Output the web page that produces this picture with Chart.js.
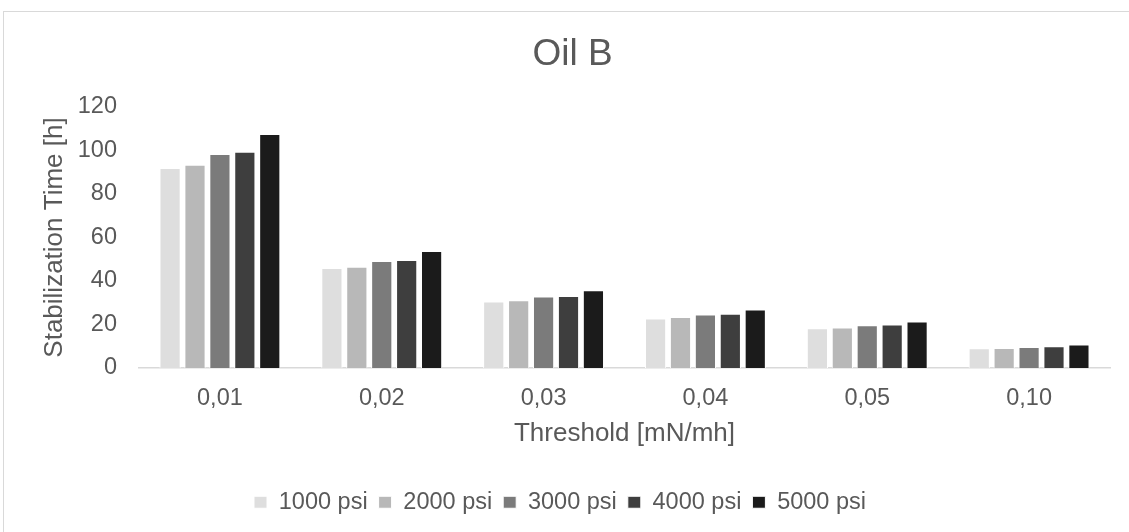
<!DOCTYPE html>
<html>
<head>
<meta charset="utf-8">
<script src="https://cdn.jsdelivr.net/npm/chart.js@4.4.0/dist/chart.umd.min.js"></script>
<style>
  html, body { margin: 0; padding: 0; background: #fff; overflow: hidden; }
  body { width: 1129px; height: 532px; position: relative; }
  #frame {
    position: absolute; left: 3px; top: 11px;
    width: 1200px; height: 600px;
    border: 1px solid #d9d9d9; box-sizing: border-box;
  }
  #myChart { position: absolute; left: 0; top: 0; }
</style>
</head>
<body>
<div id="frame"></div>
<canvas id="myChart" width="1145" height="534"></canvas>
<script>
const thresholds = ["0,01", "0,02", "0,03", "0,04", "0,05", "0,10"];
const psi1000 = [91.9, 46.0, 30.6, 22.8, 18.3, 9.1];
const psi2000 = [93.4, 46.6, 31.2, 23.4, 18.6, 9.2];
const psi3000 = [98.4, 49.2, 32.9, 24.6, 19.7, 9.7];
const psi4000 = [99.4, 49.7, 33.1, 24.9, 20.0, 10.0];
const psi5000 = [107.6, 53.8, 35.8, 26.9, 21.4, 10.8];
const yTicks = [0, 20, 40, 60, 80, 100, 120];

const textColor = "#595959";
const fontFamily = "'Liberation Sans', Arial, sans-serif";

const series = [
  { label: "1000 psi", data: psi1000, color: "#dedede" },
  { label: "2000 psi", data: psi2000, color: "#b8b8b8" },
  { label: "3000 psi", data: psi3000, color: "#7b7b7b" },
  { label: "4000 psi", data: psi4000, color: "#3e3e3e" },
  { label: "5000 psi", data: psi5000, color: "#1b1b1b" },
];

// title sits centred on the whole frame, not only the visible part
const shiftTitle = {
  id: "shiftTitle",
  afterLayout(chart) {
    const t = chart.titleBlock;
    if (t) {
      t.left += 12.5;
      t.right += 12.5;
    }
  },
};

const ctx = document.querySelector("#myChart").getContext("2d");

const myChart = new Chart(ctx, {
  type: "bar",
  data: {
    labels: thresholds,
    datasets: series.map((s) => ({
      label: s.label,
      data: s.data,
      backgroundColor: s.color,
      borderColor: "#ffffff",
      borderWidth: 1,
      categoryPercentage: 0.77,
      barPercentage: 0.85,
    })),
  },
  options: {
    responsive: false,
    animation: false,
    devicePixelRatio: 1,
    layout: { padding: { top: 33, left: 10, right: 35, bottom: 10 } },
    plugins: {
      title: {
        display: true,
        text: "Oil B",
        color: textColor,
        font: { family: fontFamily, size: 37, weight: "normal" },
        padding: { top: 0, bottom: 29.6 },
      },
      legend: {
        position: "bottom",
        labels: {
          color: textColor,
          font: { family: fontFamily, size: 23.5 },
          boxWidth: 13,
          boxHeight: 12,
          padding: 11,
        },
      },
      tooltip: { enabled: false },
    },
    scales: {
      x: {
        grid: { display: false, drawTicks: false },
        border: { display: true, color: "#d9d9d9", width: 1.5 },
        ticks: {
          color: textColor,
          font: { family: fontFamily, size: 23.5 },
          padding: 16,
        },
        title: {
          display: true,
          text: "Threshold [mN/mh]",
          color: textColor,
          font: { family: fontFamily, size: 26 },
          padding: { top: 0, bottom: 30 },
        },
        afterFit(scale) {
          scale.height = 111.5;
        },
      },
      y: {
        min: 0,
        max: 120,
        grid: { display: false, drawTicks: false },
        border: { display: false },
        afterBuildTicks(scale) {
          scale.ticks = yTicks.map((v) => ({ value: v }));
        },
        ticks: {
          color: textColor,
          font: { family: fontFamily, size: 23.5 },
          padding: 22,
        },
        title: {
          display: true,
          text: "Stabilization Time [h]",
          color: textColor,
          font: { family: fontFamily, size: 26 },
          padding: { top: 29, bottom: 0 },
        },
        afterFit(scale) {
          scale.width = 129;
        },
      },
    },
  },
  plugins: [shiftTitle],
});
</script>
</body>
</html>
